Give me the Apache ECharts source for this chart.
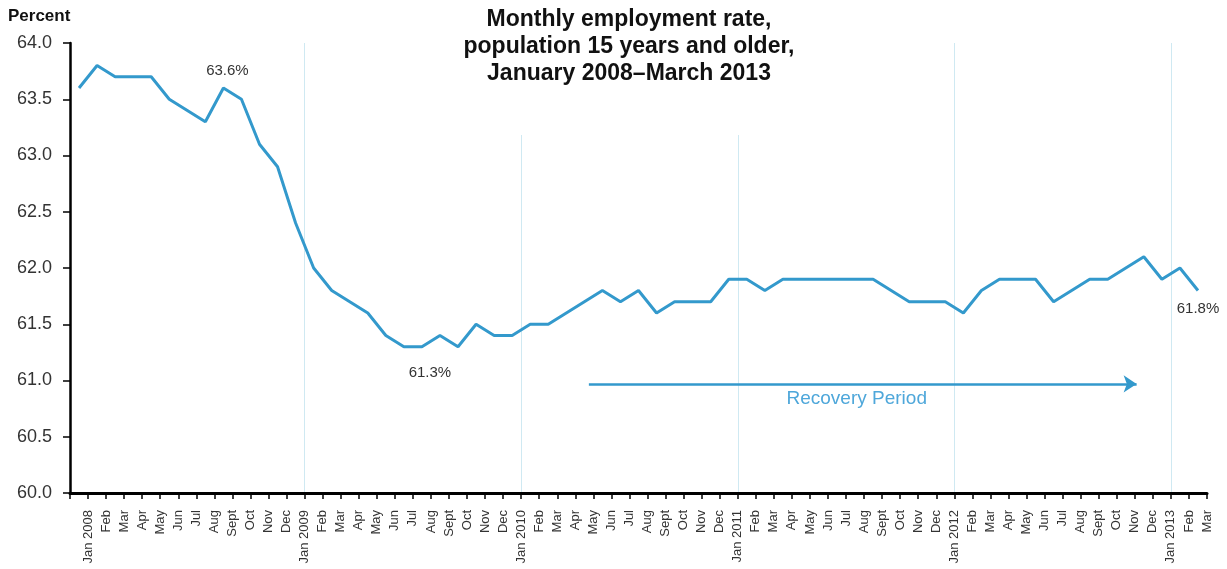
<!DOCTYPE html>
<html>
<head>
<meta charset="utf-8">
<title>Monthly employment rate</title>
<script src="https://cdn.jsdelivr.net/npm/echarts@6/dist/echarts.min.js"></script>
<style>
  html, body { margin: 0; padding: 0; background: #fff; }
  #chart { width: 1227px; height: 569px; }
</style>
</head>
<body>
<div id="chart"></div>
<script>
  // tick labels
  const monthNames = ['Jan', 'Feb', 'Mar', 'Apr', 'May', 'Jun', 'Jul', 'Aug', 'Sept', 'Oct', 'Nov', 'Dec'];
  const firstYear = 2008;

  // employment rate (percent), one array per year
  const rate2008 = [63.6, 63.8, 63.7, 63.7, 63.7, 63.5, 63.4, 63.3, 63.6, 63.5, 63.1, 62.9];
  const rate2009 = [62.4, 62.0, 61.8, 61.7, 61.6, 61.4, 61.3, 61.3, 61.4, 61.3, 61.5, 61.4];
  const rate2010 = [61.4, 61.5, 61.5, 61.6, 61.7, 61.8, 61.7, 61.8, 61.6, 61.7, 61.7, 61.7];
  const rate2011 = [61.9, 61.9, 61.8, 61.9, 61.9, 61.9, 61.9, 61.9, 61.9, 61.8, 61.7, 61.7];
  const rate2012 = [61.7, 61.6, 61.8, 61.9, 61.9, 61.9, 61.7, 61.8, 61.9, 61.9, 62.0, 62.1];
  const rate2013 = [61.9, 62.0, 61.8];

  const rates = [].concat(rate2008, rate2009, rate2010, rate2011, rate2012, rate2013);

  // months with a value callout (index into rates)
  const calloutIdx = [8, 19, 62];

  // recovery period arrow: [month index, percent]
  const recoveryFrom = [28.25, 60.97];
  const recoveryTo = [58.6, 60.97];

  const monthLabels = rates.map((v, i) => {
    const m = i % 12;
    return m === 0 ? 'Jan ' + (firstYear + Math.floor(i / 12)) : monthNames[m];
  });
  // the label axis sits half a month to the right of the points, like the original
  const axisLabels = [''].concat(monthLabels);

  const calloutStyle = {
    8: { position: 'top', distance: 10, offset: [4, 0] },
    19: { position: 'bottom', distance: 19, offset: [8, 0] },
    62: { position: 'bottom', distance: 11, offset: [0, 0] }
  };

  const seriesData = rates.map((v, i) => {
    const item = { value: [i, v] };
    if (calloutIdx.indexOf(i) >= 0) {
      item.label = Object.assign({ show: true }, calloutStyle[i]);
    }
    return item;
  });

  const font = 'Liberation Sans, Arial, Helvetica, sans-serif';
  const blue = '#3399cc';

  const chart = echarts.init(document.getElementById('chart'));
  chart.setOption({
    animation: false,
    title: [
      {
        text: 'Monthly employment rate,\npopulation 15 years and older,\nJanuary 2008\u2013March 2013',
        left: 619,
        top: 0,
        textAlign: 'center',
        padding: [6, 10, 48, 10],
        backgroundColor: '#fff',
        textStyle: { fontFamily: font, fontSize: 23, fontWeight: 'bold', color: '#111', lineHeight: 27 }
      },
      {
        text: 'Percent',
        left: 3,
        top: 3,
        textStyle: { fontFamily: font, fontSize: 17, fontWeight: 'bold', color: '#111' }
      }
    ],
    grid: { left: 70, right: 20, top: 43, bottom: 76, containLabel: false },
    xAxis: [
      {
        type: 'value',
        min: -0.5,
        max: rates.length - 0.5,
        show: false,
        splitLine: { show: false }
      },
      {
        type: 'category',
        data: axisLabels,
        boundaryGap: false,
        position: 'bottom',
        axisLine: { show: true, onZero: false, lineStyle: { color: '#000', width: 3 } },
        axisTick: { show: true, interval: 0, length: 6, lineStyle: { color: '#000', width: 1.5 } },
        axisLabel: {
          interval: 0,
          rotate: 90,
          margin: 17,
          fontFamily: font,
          fontSize: 13,
          color: '#333'
        },
        splitLine: {
          show: true,
          interval: (idx, val) => idx > 1 && val.indexOf('Jan') === 0,
          lineStyle: { color: '#cfe9f2', width: 1 }
        }
      }
    ],
    yAxis: {
      type: 'value',
      min: 60,
      max: 64,
      interval: 0.5,
      axisLine: { show: true, onZero: false, lineStyle: { color: '#000', width: 2.5 } },
      axisTick: { show: true, length: 7, lineStyle: { color: '#000', width: 1.5 } },
      axisLabel: {
        margin: 18,
        fontFamily: font,
        fontSize: 18,
        color: '#333',
        formatter: v => v.toFixed(1)
      },
      splitLine: { show: false }
    },
    series: [
      {
        type: 'line',
        xAxisIndex: 0,
        yAxisIndex: 0,
        data: seriesData,
        symbol: 'circle',
        symbolSize: 0,
        showSymbol: true,
        lineStyle: { color: blue, width: 3 },
        itemStyle: { color: blue },
        label: {
          show: false,
          fontFamily: font,
          fontSize: 15,
          color: '#333',
          formatter: p => p.value[1].toFixed(1) + '%'
        },
        markLine: {
          silent: true,
          symbol: ['none', 'arrow'],
          symbolSize: 13,
          lineStyle: { color: blue, width: 2.5, type: 'solid' },
          label: {
            show: true,
            position: 'insideMiddleBottom',
            formatter: 'Recovery Period',
            fontFamily: font,
            fontSize: 19,
            color: '#4ea7da',
            distance: 5,
            offset: [-6, 0]
          },
          data: [[{ coord: recoveryFrom }, { coord: recoveryTo }]]
        }
      }
    ]
  });
</script>
</body>
</html>
